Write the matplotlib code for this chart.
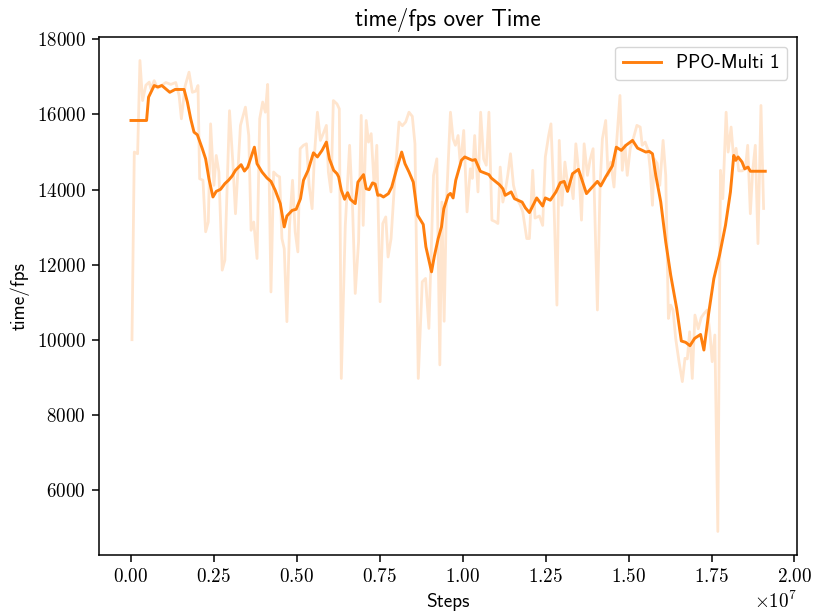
import numpy as np
import matplotlib.pyplot as plt

plt.rcParams['font.family'] = 'cmr10'
plt.rcParams['mathtext.fontset'] = 'cm'
plt.rcParams['axes.formatter.use_mathtext'] = True
plt.rcParams['axes.unicode_minus'] = False

# raw fps log (steps in millions)
raw_steps = [0.03, 0.10, 0.20, 0.27, 0.35, 0.45, 0.55, 0.60, 0.70, 0.80,
             0.90, 1.05, 1.20, 1.35, 1.45, 1.52, 1.63, 1.75, 1.85, 1.95,
             2.02, 2.07, 2.17, 2.25, 2.33, 2.40, 2.50, 2.57, 2.65, 2.75,
             2.83, 2.97, 3.07, 3.15, 3.30, 3.45, 3.55, 3.62, 3.70, 3.80,
             3.88, 3.97, 4.05, 4.12, 4.22, 4.30, 4.40, 4.48, 4.55, 4.62,
             4.70, 4.78, 4.87, 4.95, 5.03, 5.10, 5.20, 5.29, 5.37, 5.46,
             5.53, 5.62, 5.71, 5.80, 5.89, 5.95, 6.03, 6.10, 6.21, 6.28,
             6.34, 6.46, 6.59, 6.68, 6.76, 6.86, 6.94, 7.00, 7.09, 7.16,
             7.24, 7.33, 7.41, 7.51, 7.59, 7.68, 7.75, 7.84, 7.96, 8.08,
             8.18, 8.28, 8.38, 8.48, 8.56, 8.66, 8.78, 8.88, 8.98, 9.12,
             9.22, 9.31, 9.37, 9.44, 9.51, 9.63, 9.71, 9.78, 9.86, 9.93,
             10.03, 10.13, 10.23, 10.29, 10.36, 10.46, 10.54, 10.63, 10.71, 10.79,
             10.88, 10.98, 11.06, 11.13, 11.21, 11.29, 11.36, 11.44, 11.53, 11.63,
             11.73, 11.81, 11.93, 12.01, 12.11, 12.18, 12.31, 12.41, 12.49, 12.59,
             12.66, 12.74, 12.84, 12.91, 12.99, 13.08, 13.18, 13.26, 13.33, 13.41,
             13.51, 13.58, 13.66, 13.76, 13.84, 13.93, 14.01, 14.06, 14.14, 14.21,
             14.31, 14.38, 14.46, 14.56, 14.64, 14.74, 14.81, 14.89, 14.96, 15.05,
             15.14, 15.25, 15.35, 15.41, 15.50, 15.59, 15.65, 15.72, 15.77, 15.86,
             15.94, 16.04, 16.12, 16.20, 16.27, 16.34, 16.42, 16.52, 16.62, 16.70,
             16.77, 16.84, 16.92, 17.00, 17.10, 17.19, 17.27, 17.37, 17.45, 17.52,
             17.60, 17.69, 17.77, 17.84, 17.94, 18.00, 18.09, 18.17, 18.24, 18.32,
             18.42, 18.52, 18.59, 18.67, 18.74, 18.82, 18.90, 18.99, 19.07]
raw_fps = [10010, 15000, 14955, 17435, 16370, 16780, 16860, 16680, 16900, 16700,
           16760, 16850, 16800, 16850, 16505, 15885, 16750, 17125, 16590, 16620,
           16770, 14290, 14250, 12880, 13140, 15750, 14115, 14910, 14470, 11860,
           12125, 16100, 14735, 13360, 15710, 16195, 15440, 12920, 13140, 12170,
           15885, 16330, 16060, 16800, 11280, 14470, 14380, 14340, 12700, 12430,
           10490, 13050, 14250, 12880, 12345, 15090, 15180, 15220, 14115, 13495,
           14910, 16060, 15310, 15500, 15710, 14470, 13940, 16370, 16280, 16150,
           8980, 13050, 15180, 13500, 11240, 12610, 15975, 13050, 15840, 15265,
           15490, 14115, 15180, 11020, 13100, 13275, 12210, 12700, 14380, 15800,
           15700, 15800, 16060, 15950, 15220, 8980, 11550, 11640, 10310, 14380,
           14820, 9340, 13670, 10500, 13670, 16060, 15350, 15180, 15440, 14640,
           15575, 13410, 14555, 14300, 15440, 13940, 16060, 14820, 14650, 16060,
           13190, 13150, 13100, 14600, 13670, 14000, 14400, 14955, 14115, 13760,
           13600, 13410, 12700, 12700, 14515, 13245, 13300, 13050, 14870, 15440,
           15750, 13940, 10930, 15310, 13585, 14735, 14025, 14200, 13760, 15220,
           14380, 13190, 15220, 14380, 14800, 15090, 12430, 10800, 14115, 15350,
           15840, 14380, 14735, 14070, 15265, 16505, 14515, 15180, 14380, 15100,
           15350, 15710, 15665, 15180, 15265, 15050, 14555, 13585, 14820, 14700,
           14115, 15310, 14380, 10575, 10930, 10800, 10040, 9425, 8895, 9515,
           9500, 10220, 8980, 10665, 10300, 10600, 10700, 10800, 10200, 9425,
           10135, 4910, 14515, 13760, 16060, 15000, 15665, 14800, 15100, 14500,
           14500, 14555, 15180, 13360, 14500, 15180, 12565, 16240, 13500]

# smoothed curve
smooth_steps = [0.00, 0.47, 0.53, 0.70, 0.81, 0.93, 1.05, 1.17, 1.33, 1.60,
                1.70, 1.80, 1.90, 2.00, 2.15, 2.25, 2.35, 2.47, 2.57, 2.70,
                2.83, 2.94, 3.05, 3.15, 3.32, 3.42, 3.52, 3.72, 3.80, 3.95,
                4.10, 4.22, 4.35, 4.50, 4.62, 4.70, 4.86, 4.98, 5.11, 5.20,
                5.34, 5.50, 5.62, 5.76, 5.89, 5.98, 6.11, 6.21, 6.26, 6.34,
                6.44, 6.53, 6.61, 6.76, 6.84, 7.01, 7.09, 7.18, 7.28, 7.36,
                7.44, 7.51, 7.61, 7.76, 7.86, 8.01, 8.16, 8.26, 8.38, 8.51,
                8.64, 8.81, 8.89, 9.06, 9.14, 9.26, 9.36, 9.43, 9.56, 9.63,
                9.71, 9.79, 9.96, 10.06, 10.29, 10.38, 10.53, 10.79, 10.86, 11.11,
                11.21, 11.28, 11.46, 11.56, 11.79, 11.89, 12.01, 12.23, 12.41, 12.49,
                12.64, 12.81, 12.94, 13.06, 13.16, 13.31, 13.49, 13.73, 13.86, 14.06,
                14.16, 14.31, 14.51, 14.63, 14.78, 14.92, 15.12, 15.27, 15.52, 15.62,
                15.72, 15.82, 15.97, 16.12, 16.27, 16.45, 16.59, 16.72, 16.85, 16.99,
                17.17, 17.27, 17.42, 17.57, 17.74, 17.92, 18.07, 18.17, 18.23, 18.30,
                18.42, 18.50, 18.60, 18.67, 19.12]
smooth_fps = [15840, 15840, 16460, 16770, 16730, 16770, 16680, 16590, 16665, 16665,
              16330, 15885, 15530, 15460, 15090, 14820, 14290, 13805, 13955, 14010,
              14160, 14250, 14365, 14515, 14665, 14495, 14600, 15130, 14690, 14470,
              14310, 14220, 13980, 13630, 13010, 13300, 13450, 13480, 13760, 14250,
              14515, 14980, 14870, 15045, 15265, 14820, 14515, 14425, 14340, 13985,
              13745, 13920, 13745, 13630, 14200, 14400, 14025, 14000, 14180, 14150,
              13850, 13860, 13805, 13895, 14070, 14555, 15000, 14690, 14470, 14200,
              13320, 13075, 12480, 11815, 12210, 12700, 13010, 13495, 13850, 13900,
              13780, 14250, 14780, 14870, 14780, 14800, 14490, 14400, 14310, 14130,
              14025, 13850, 13940, 13760, 13670, 13515, 13390, 13780, 13565, 13780,
              13720, 13940, 14185, 14220, 13955, 14425, 14540, 13895, 14025, 14220,
              14100, 14340, 14630, 15130, 15045, 15180, 15310, 15105, 15000, 15020,
              14955, 14380, 13670, 12610, 11725, 10840, 9975, 9940, 9850, 10045,
              10150, 9735, 10750, 11635, 12255, 13050, 13940, 14910, 14780, 14870,
              14735, 14555, 14600, 14490, 14490]

raw_x = np.array(raw_steps) * 1e6
smooth_x = np.array(smooth_steps) * 1e6

fig = plt.figure(figsize=(8.17, 6.16), dpi=100)
ax = fig.add_axes([0.1215, 0.099, 0.854, 0.841])

ax.plot(raw_x, raw_fps, color='#ff7f0e', alpha=0.2, linewidth=2.0)
ax.plot(smooth_x, smooth_fps, color='#ff7f0e', linewidth=2.1, label='PPO-Multi 1')

ax.set_title('time/fps over Time', fontfamily='cmss10', fontsize=16.5, pad=8)
ax.set_xlabel('Steps', fontfamily='cmss10', fontsize=13.8, labelpad=5)
ax.set_ylabel('time/fps', fontfamily='cmss10', fontsize=13.8, labelpad=5)
ax.tick_params(labelsize=13.8, length=4.8, width=1.1, pad=4.8)
for s in ax.spines.values():
    s.set_linewidth(1.1)
ax.xaxis.get_offset_text().set_fontsize(13.8)
ax.set_yticks([6000, 8000, 10000, 12000, 14000, 16000, 18000])

ax.legend(loc='upper right', prop={'family': 'cmss10', 'size': 13.8})

fig.savefig('out.png', dpi=100)
